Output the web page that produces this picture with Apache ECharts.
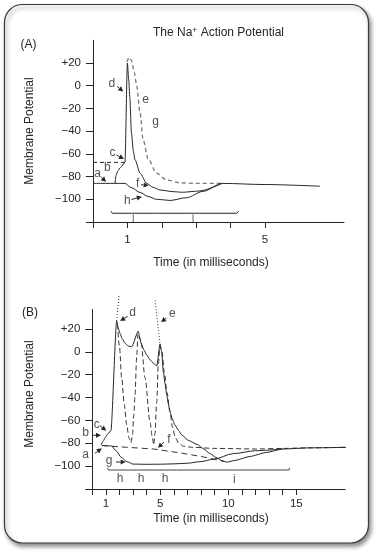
<!DOCTYPE html>
<html><head><meta charset="utf-8">
<script src="https://cdn.jsdelivr.net/npm/echarts@6/dist/echarts.min.js"></script>
<style>html,body{margin:0;padding:0;background:#fff}#c{width:379px;height:552px}</style>
</head><body><div id="c"></div>
<script>
// ---------- Panel A data ----------
const aYTicks = [-100, -80, -60, -40, -20, 0, 20];
const aXTicks = [0, 1, 2, 3, 4, 5];
const aXLabels = [1, 5];
const aRestT = [0, 0.93, 1.1, 1.37, 1.6, 1.85, 2.24, 2.72, 3.2, 3.76, 5.0, 6.6];
const aRestV = [-86, -86, -89.5, -94, -97.5, -100, -101, -98.6, -93, -86, -87, -88.5];
const aSpikeT = [0.64, 0.67, 0.72, 0.8, 0.93, 1.0, 1.04, 1.07, 1.12, 1.17, 1.22, 1.37, 1.56, 1.75, 1.95, 2.33, 2.6, 3.1, 3.76];
const aSpikeV = [-86, -79, -75, -72, -67.5, 20, 5, -10, -42, -57, -65, -77, -86, -89.5, -91.8, -93.3, -93.8, -92.7, -86];
const aDashT = [0.99, 1.05, 1.12, 1.2, 1.27, 1.37, 1.46, 1.61, 1.85, 2.14, 2.53, 3.0, 3.76];
const aDashV = [21, 25, 22, 12, 0, -24, -48, -65, -77, -83, -85.5, -86, -86];
const aThreshT = [0, 0.92];
const aThreshV = [-67.5, -67.5];
const aBraceT = [0.52, 0.56, 1.12, 1.17, 1.22, 1.80, 1.85, 1.90, 2.86, 2.91, 2.96, 4.18, 4.24];
const aBraceV = [-110.5, -112.3, -112.3, -113.2, -112.3, -112.3, -110.8, -112.3, -112.3, -113.2, -112.3, -112.3, -110.5];
const aStemT = [1.17, 2.91];
const aStemTop = -113.2, aStemBottom = -120;
const aLabelText = ['d', 'e', 'g', 'c', 'b', 'a', 'f', 'h'];
const aLabelT = [0.55, 1.53, 1.82, 0.57, 0.42, 0.13, 1.3, 1.0];
const aLabelV = [1.5, -12.6, -32, -58.6, -72, -77.7, -86, -101.5];
const aArrowFrom = [[0.7, -0.5], [0.68, -61], [0.24, -80.5], [1.4, -87.2], [1.12, -100.2]];
const aArrowTo = [[0.88, -5], [0.9, -64.5], [0.38, -84.5], [1.62, -87.8], [1.42, -97.7]];

// ---------- Panel B data ----------
const bYTicks = [-100, -80, -60, -40, -20, 0, 20];
const bXTicks = [0, 1, 2, 3, 4, 5, 6, 7, 8, 9, 10, 11, 12, 13, 14, 15];
const bXLabels = [1, 5, 10, 15];
const bMainT = [0.64, 0.8, 0.95, 1.15, 1.37, 1.79, 1.9, 2.04, 2.2, 2.4, 2.65, 2.9, 3.38, 3.5, 3.63, 3.8, 4.0, 4.25, 4.49, 4.74, 4.98, 5.1, 5.22, 5.35, 5.47, 5.59, 5.71, 5.85, 6.08, 6.35, 6.6, 7.06, 7.7, 8.2, 8.65, 9.1, 9.6, 9.9, 10.5, 11.6, 12.8, 14.0, 16.0, 18.9];
const bMainV = [-81.5, -78, -75, -71.5, -69, 27, 21, 16, 11.5, 7.5, 5, 4.5, 18, 11, 6, 1.5, -2.8, -7, -10, -12.4, 6.6, 0, -17.4, -28, -37.8, -45.5, -52, -58, -64, -69, -73, -77.5, -81, -85, -89, -92.5, -95.5, -96.5, -95, -91.5, -88, -85, -84, -83.5];
const bGT = [0.8, 1.4, 1.79, 2.1, 2.53, 3.0, 4.0, 5.0, 6.0, 6.94, 8.0, 8.9, 10.4, 12.0, 14.0];
const bGV = [-82, -82.3, -87, -92, -96, -98.2, -98.4, -98.3, -98, -97.5, -96, -94, -89, -86.5, -85];
const bFlatT = [0.7, 2.5, 4.5, 6.5, 8.2, 9.7];
const bFlatV = [-82, -83.5, -85, -88.5, -92, -96];
const bD1T = [1.85, 2.0, 2.16, 2.35, 2.53, 2.7, 2.85, 2.95, 3.05, 3.14, 3.26, 3.34];
const bD1V = [24, 4, -23, -46, -64, -75.5, -79.5, -73, -55, -38, -5, 15];
const bD2T = [3.45, 3.58, 3.88, 4.24, 4.4, 4.52, 4.6, 4.74, 4.85, 4.95];
const bD2V = [14, 8.9, -23, -61, -74, -81.5, -72, -43.6, -11.5, 4];
const bD3T = [4.98, 5.12, 5.3, 5.5, 5.7, 5.9, 6.1, 6.35, 6.7, 7.3, 9.0, 12.0, 14.0, 16.0, 18.9];
const bD3V = [6.6, 0, -18, -36, -52, -66, -75, -80, -82.5, -83.5, -84.5, -85, -84.5, -84, -83.5];
const bDotDT = [1.79, 1.97];
const bDotDV = [27, 50];
const bDotET = [4.61, 4.98];
const bDotEV = [45, 6.6];
const bBraceT = [1.13, 1.18, 1.98, 2.04, 2.10, 2.72, 2.77, 2.82, 3.52, 3.58, 3.64, 4.44, 4.49, 4.54, 5.29, 5.35, 5.41, 6.20, 6.25, 6.30, 10.38, 10.44, 10.50, 14.45, 14.5];
const bBraceV = [-101.5, -103.4, -103.4, -104.6, -103.4, -103.4, -102.0, -103.4, -103.4, -104.6, -103.4, -103.4, -102.0, -103.4, -103.4, -104.6, -103.4, -103.4, -102.0, -103.4, -103.4, -104.6, -103.4, -103.4, -101.5];
const bLabelText = ['d', 'e', 'c', 'b', 'a', 'f', 'g', 'h', 'h', 'h', 'i'];
const bLabelT = [2.97, 5.88, 0.32, -0.49, -0.49, 5.64, 1.23, 2.04, 3.58, 5.35, 10.44];
const bLabelV = [34.6, 33, -63.4, -70.4, -90, -77, -95.5, -111, -111, -111, -112];
const bArrowFrom = [[2.6, 31], [5.45, 29.5], [0.55, -64.5], [0.07, -73], [0.2, -88.8], [5.27, -78.9], [1.74, -96.4]];
const bArrowTo = [[2.05, 27], [5.05, 26], [1.02, -69], [0.64, -73], [0.69, -84.4], [4.83, -84], [2.45, -96.4]];

// ---------- build ----------
const FONT = '"Liberation Sans", Arial, Helvetica, sans-serif';
const INK = '#262626';
const zip = (t, v) => t.map((x, i) => [x, v[i]]);

function ln(t, v, g, color, type, width, smooth, extra) {
  return Object.assign({
    type: 'line', xAxisIndex: g, yAxisIndex: g, data: zip(t, v), symbol: 'none', silent: true,
    smooth: smooth, smoothMonotone: 'x', animation: false,
    lineStyle: { color: color, width: width, type: type }
  }, extra || {});
}
function labels(txt, t, v, g) {
  return {
    type: 'scatter', xAxisIndex: g, yAxisIndex: g, clip: false, silent: true, animation: false,
    symbolSize: 1, itemStyle: { color: 'rgba(0,0,0,0)' },
    label: { show: true, position: 'inside', formatter: '{b}', color: INK, fontSize: 12, fontFamily: FONT },
    data: txt.map((s, i) => ({ name: s, value: [t[i], v[i]] }))
  };
}
function arrows(from, to, g) {
  return {
    type: 'custom', xAxisIndex: g, yAxisIndex: g, silent: true, animation: false, clip: false,
    encode: { x: [0, 2], y: [1, 3] },
    data: from.map((f, i) => [f[0], f[1], to[i][0], to[i][1]]),
    renderItem: function (params, api) {
      const p1 = api.coord([api.value(0), api.value(1)]);
      const p2 = api.coord([api.value(2), api.value(3)]);
      const dx = p2[0] - p1[0], dy = p2[1] - p1[1];
      const L = Math.sqrt(dx * dx + dy * dy) || 1;
      const ux = dx / L, uy = dy / L, hl = 5, hw = 2.6;
      const bx = p2[0] - ux * hl, by = p2[1] - uy * hl;
      return {
        type: 'group', children: [
          { type: 'line', shape: { x1: p1[0], y1: p1[1], x2: bx, y2: by }, style: { stroke: INK, lineWidth: 1 } },
          { type: 'polygon', shape: { points: [[p2[0], p2[1]], [bx - uy * hw, by + ux * hw], [bx + uy * hw, by - ux * hw]] }, style: { fill: INK } }
        ]
      };
    }
  };
}
function xAxis(g, max, ticks, labs, margin) {
  return {
    type: 'value', gridIndex: g, min: 0, max: max,
    axisLine: { onZero: false, lineStyle: { color: INK, width: 1 } },
    axisTick: { show: true, length: 6, customValues: ticks, lineStyle: { color: INK } },
    axisLabel: { customValues: labs, color: INK, fontSize: 11.5, fontFamily: FONT, margin: margin },
    splitLine: { show: false }
  };
}
function yAxis(g, max, ticks) {
  return {
    type: 'value', gridIndex: g, min: -120, max: max,
    axisLine: { show: true, onZero: false, lineStyle: { color: INK, width: 1 } },
    axisTick: { show: true, length: 7, customValues: ticks.concat([-120]), lineStyle: { color: INK } },
    axisLabel: { customValues: ticks, color: INK, fontSize: 11.5, fontFamily: FONT, margin: 12,
      formatter: v => (v > 0 ? '+' + v : (v < 0 ? '\u2212' + Math.abs(v) : '' + v)) },
    splitLine: { show: false }
  };
}

const series = [
  // Panel A
  ln(aThreshT, aThreshV, 0, INK, [4, 3], 1, false),
  ln(aDashT, aDashV, 0, '#777', [4, 3], 1.3, 0.3),
  ln(aRestT, aRestV, 0, INK, 'solid', 1, 0.3),
  ln(aSpikeT, aSpikeV, 0, INK, 'solid', 1, 0.25),
  ln(aBraceT, aBraceV, 0, INK, 'solid', 1, false),
  ...aStemT.map(t => ln([t, t], [aStemTop, aStemBottom], 0, '#666', 'solid', 1, false)),
  arrows(aArrowFrom, aArrowTo, 0),
  labels(aLabelText, aLabelT, aLabelV, 0),
  // Panel B
  ln(bFlatT, bFlatV, 1, '#333', [6, 4], 1, false),
  ln(bD1T, bD1V, 1, '#333', [5, 3], 1, 0.3),
  ln(bD2T, bD2V, 1, '#333', [5, 3], 1, 0.3),
  ln(bD3T, bD3V, 1, '#333', [5, 3], 1, 0.3, { clip: false }),
  ln(bDotDT, bDotDV, 1, '#333', [1, 2], 1, false, { clip: false }),
  ln(bDotET, bDotEV, 1, '#333', [1, 2], 1, false, { clip: false }),
  ln(bGT, bGV, 1, INK, 'solid', 1, 0.3),
  ln(bMainT, bMainV, 1, INK, 'solid', 1, 0.2, { clip: false }),
  ln(bBraceT, bBraceV, 1, '#444', 'solid', 1, false),
  arrows(bArrowFrom, bArrowTo, 1),
  labels(bLabelText, bLabelT, bLabelV, 1)
];

const txt = (x, y, text, extra) => Object.assign({
  type: 'text', x: x, y: y, z: 10,
  style: { text: text, fill: INK, font: '12px ' + FONT, textAlign: 'center', textVerticalAlign: 'middle' }
}, extra || {});

const option = {
  animation: false,
  backgroundColor: '#fff',
  grid: [
    { left: 93, top: 40.3, width: 251, height: 181.7 },
    { left: 92.3, top: 309.5, width: 253, height: 179.5 }
  ],
  xAxis: [xAxis(0, 7.3, aXTicks, aXLabels, 12), xAxis(1, 18.6, bXTicks, bXLabels, 9)],
  yAxis: [yAxis(0, 40, aYTicks), yAxis(1, 37, bYTicks)],
  series: series,
  graphic: [
    { type: 'rect', z: -10, shape: { x: 4.5, y: 4.5, width: 364, height: 538.5, r: 18 },
      style: { fill: '#fff', stroke: '#3a3a3a', lineWidth: 1.2, shadowBlur: 4, shadowOffsetX: 2, shadowOffsetY: 3, shadowColor: 'rgba(0,0,0,0.45)' } },
    { type: 'text', x: 218.5, y: 33, z: 10,
      style: { text: '{a|The Na}{s|+}{a| Action Potential}', textAlign: 'center', textVerticalAlign: 'middle',
        rich: { a: { fontSize: 12, fontFamily: FONT, fill: INK }, s: { fontSize: 8.5, fontFamily: FONT, fill: INK, padding: [0, 0, 5, 0] } } } },
    txt(28.5, 45, '(A)'),
    txt(30, 313, '(B)'),
    txt(30, 131, 'Membrane Potential', { rotation: Math.PI / 2 }),
    txt(30, 394, 'Membrane Potential', { rotation: Math.PI / 2 }),
    txt(211, 263, 'Time (in milliseconds)'),
    txt(211, 519, 'Time (in milliseconds)')
  ]
};

const chart = echarts.init(document.getElementById('c'), null, { renderer: 'canvas' });
chart.setOption(option);
</script>
</body></html>
